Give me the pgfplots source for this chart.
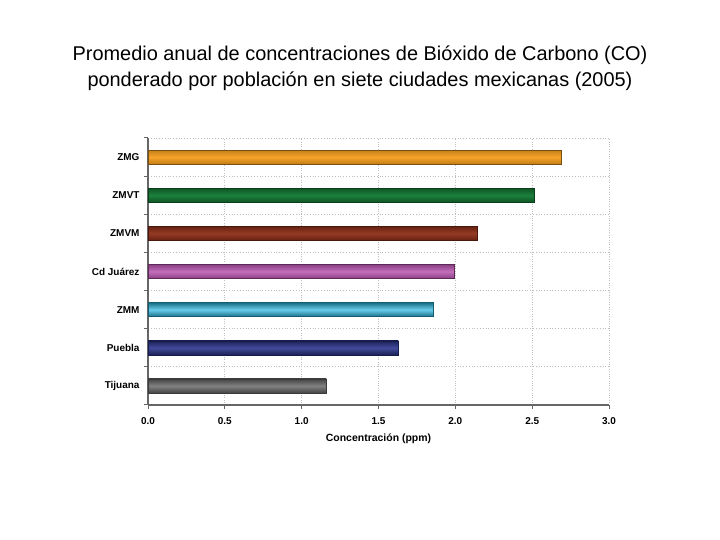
\documentclass[border=0pt]{standalone}
\usepackage{pgfplots}
\pgfplotsset{compat=1.18}
\usepackage{fontspec}
\setmainfont{Liberation Sans}
\definecolor{cZMG}{RGB}{245,158,30}
\definecolor{cZMVT}{RGB}{18,122,50}
\definecolor{cZMVM}{RGB}{145,48,25}
\definecolor{cCdJ}{RGB}{185,85,175}
\definecolor{cZMM}{RGB}{40,185,225}
\definecolor{cPue}{RGB}{45,55,145}
\definecolor{cTij}{RGB}{115,115,115}
\begin{document}
\begin{tikzpicture}[x=1bp,y=1bp]
\path[use as bounding box] (0,0) rectangle (720,540);
\node[font=\fontsize{20}{22}\selectfont, anchor=base] at (360,479) {Promedio anual de concentraciones de Bióxido de Carbono (CO)};
\node[font=\fontsize{20}{22}\selectfont, anchor=base] at (360,453) {ponderado por población en siete ciudades mexicanas (2005)};
\begin{axis}[
  at={(148bp,135bp)}, anchor=south west,
  scale only axis, width=461bp, height=267bp,
  xmin=0, xmax=3, ymin=-0.5, ymax=6.5,
  xtick={0,0.5,...,3},
  /pgf/number format/assume math mode=true,
  x tick label style={yshift=-5bp, /pgf/number format/.cd, fixed, fixed zerofill, precision=1},
  ytick={0,...,6},
  yticklabels={Tijuana,Puebla,ZMM,Cd Juárez,ZMVM,ZMVT,ZMG},
  minor ytick={-0.5,0.5,...,6.5},
  ymajorgrids=false, yminorgrids=true, xmajorgrids=true,
  grid style={gray!50, dotted, line width=0.8pt},
  minor grid style={gray!50, dotted, line width=0.8pt},
  axis x line*=bottom, axis y line*=left,
  axis line style={gray!80!black, line width=1.5pt},
  tick label style={font=\bfseries\fontsize{10}{11}\selectfont},
  y tick label style={text=black, xshift=-1bp},
  major y tick style={draw=none},
  minor y tick style={gray!80!black, line width=1pt},
  minor tick length=4bp,
  x tick style={gray!80!black, line width=1pt},
  major tick length=4bp,
  tick align=outside,
  xlabel={\bfseries\fontsize{10.5}{12}\selectfont Concentración (ppm)},
  xlabel style={yshift=-2bp},
  xbar, bar width=14bp, bar shift=0pt,
]
\addplot[draw=cTij!50!black, top color=cTij!60!black, bottom color=cTij!60!black, middle color=cTij!90!white] coordinates {(1.16,0)};
\addplot[draw=cPue!50!black, top color=cPue!60!black, bottom color=cPue!60!black, middle color=cPue!90!white] coordinates {(1.63,1)};
\addplot[draw=cZMM!50!black, top color=cZMM!60!black, bottom color=cZMM!60!black, middle color=cZMM!70!white] coordinates {(1.855,2)};
\addplot[draw=cCdJ!50!black, top color=cCdJ!75!black, bottom color=cCdJ!75!black, middle color=cCdJ!85!white] coordinates {(1.99,3)};
\addplot[draw=cZMVM!50!black, top color=cZMVM!70!black, bottom color=cZMVM!70!black, middle color=cZMVM!95!white] coordinates {(2.14,4)};
\addplot[draw=cZMVT!50!black, top color=cZMVT!70!black, bottom color=cZMVT!70!black, middle color=cZMVT!95!white] coordinates {(2.51,5)};
\addplot[draw=cZMG!50!black, top color=cZMG!80!black, bottom color=cZMG!80!black, middle color=cZMG!95!white] coordinates {(2.69,6)};
\end{axis}
\end{tikzpicture}
\end{document}
